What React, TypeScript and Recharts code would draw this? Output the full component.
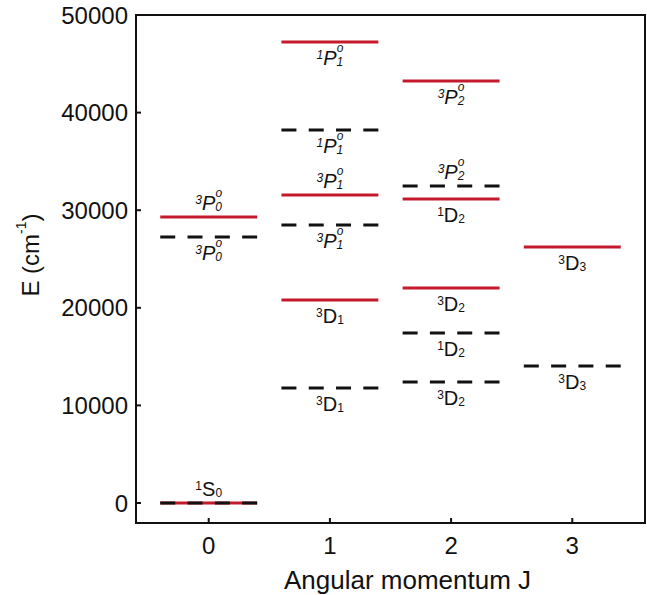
import React from "react";
import { ComposedChart, Line, Scatter, XAxis, YAxis, ReferenceArea } from "recharts";

const FONT = "'Liberation Sans', Arial, Helvetica, sans-serif";
const RED = "#c41a2b";

const J_TICKS = [0, 1, 2, 3];
const E_TICKS = [0, 10000, 20000, 30000, 40000, 50000];

// red solid levels
const calcJ = [0, 0, 1, 1, 1, 2, 2, 2, 3];
const calcE = [0, 29300, 47230, 31560, 20800, 43240, 31150, 22030, 26230];
const calcTerm = ["1S0", "3P0o", "1P1o", "3P1o", "3D1", "3P2o", "1D2", "3D2", "3D3"];

// black dashed levels
const exptJ = [0, 0, 1, 1, 1, 2, 2, 2, 3];
const exptE = [0, 27250, 38220, 28480, 11780, 32480, 17420, 12400, 14040];
const exptTerm = ["", "3P0o", "1P1o", "3P1o", "3D1", "3P2o", "1D2", "3D2", "3D3"];

// label sits above the level (true) or below it
const calcAbove = [true, true, false, true, false, false, false, false, false];
const exptAbove = [false, false, false, false, false, true, false, false, false];

const HALF = 0.4;

const segment = (j: number, e: number) => [
  { x: j - HALF, e },
  { x: j + HALF, e },
];

const labelPoints = (js: number[], es: number[], terms: string[], above: boolean[]) =>
  js.map((j, i) => ({ x: j, e: es[i], term: terms[i], above: above[i] }));

const TermLabel = (props: any) => {
  const { cx, cy, payload } = props;
  if (!payload || !payload.term) return <g />;
  const t: string = payload.term;
  const odd = t.endsWith("o");
  const y = payload.above ? cy - 7 : cy + 23;
  return (
    <text
      x={cx}
      y={y}
      textAnchor="middle"
      fontFamily={FONT}
      fill="#111"
      fontStyle={odd ? "italic" : "normal"}
    >
      <tspan fontSize={12} dy={-6}>{t[0]}</tspan>
      <tspan fontSize={20} dy={6}>{t[1]}</tspan>
      <tspan fontSize={12} dy={1}>{t[2]}</tspan>
      {odd && (
        <tspan fontSize={12} dx={-6.5} dy={-14}>
          o
        </tspan>
      )}
    </text>
  );
};

const YTitle = (props: any) => {
  const vb = props.viewBox || { x: 0, y: 15, width: 136, height: 508 };
  const x = vb.x + 30;
  const y = vb.y + vb.height / 2 - 14;
  return (
    <text
      x={x}
      y={y}
      transform={`rotate(-90 ${x} ${y})`}
      textAnchor="middle"
      dominantBaseline="central"
      fontFamily={FONT}
      fontSize={24}
      fill="#111"
    >
      E (cm<tspan fontSize={14} dy={-9}>-1</tspan>
      <tspan dy={9}>)</tspan>
    </text>
  );
};

const XTitle = (props: any) => {
  const vb = props.viewBox || { x: 136, y: 523, width: 509, height: 72 };
  return (
    <text
      x={vb.x + vb.width / 2 + 17}
      y={vb.y + 66}
      textAnchor="middle"
      fontFamily={FONT}
      fontSize={26}
      fill="#111"
    >
      Angular momentum J
    </text>
  );
};

export default function App() {
  const tick = { fontSize: 24, fill: "#111", fontFamily: FONT };
  return (
    <div style={{ position: "absolute", left: 0, top: 0, width: 647, height: 595, background: "#fff" }}>
      <ComposedChart width={647} height={595} margin={{ top: 15, right: 2, bottom: 0, left: 0 }}>
        <XAxis
          type="number"
          dataKey="x"
          domain={[-0.6, 3.6]}
          ticks={J_TICKS}
          allowDataOverflow
          height={72}
          tick={tick}
          tickSize={-5}
          tickMargin={19}
          axisLine={{ stroke: "#111", strokeWidth: 2 }}
          tickLine={{ stroke: "#111", strokeWidth: 2 }}
          label={(p: any) => <XTitle {...p} />}
        />
        <YAxis
          type="number"
          dataKey="e"
          domain={[-2050, 50000]}
          ticks={E_TICKS}
          allowDataOverflow
          width={136}
          tick={tick}
          tickSize={-5}
          tickMargin={13}
          axisLine={{ stroke: "#111", strokeWidth: 2 }}
          tickLine={{ stroke: "#111", strokeWidth: 2 }}
          label={(p: any) => <YTitle {...p} />}
        />
        <ReferenceArea
          x1={-0.6}
          x2={3.6}
          y1={-2050}
          y2={50000}
          fill="none"
          stroke="#111"
          strokeWidth={2}
          ifOverflow="visible"
        />
        {calcJ.map((j, i) => (
          <Line
            key={`c${i}`}
            data={segment(j, calcE[i])}
            dataKey="e"
            stroke={RED}
            strokeWidth={3}
            dot={false}
            activeDot={false}
            isAnimationActive={false}
          />
        ))}
        {exptJ.map((j, i) => (
          <Line
            key={`x${i}`}
            data={segment(j, exptE[i])}
            dataKey="e"
            stroke="#111"
            strokeWidth={3}
            strokeDasharray="15 12.3"
            dot={false}
            activeDot={false}
            isAnimationActive={false}
          />
        ))}
        <Scatter
          data={labelPoints(calcJ, calcE, calcTerm, calcAbove)}
          dataKey="e"
          shape={TermLabel}
          isAnimationActive={false}
        />
        <Scatter
          data={labelPoints(exptJ, exptE, exptTerm, exptAbove)}
          dataKey="e"
          shape={TermLabel}
          isAnimationActive={false}
        />
      </ComposedChart>
    </div>
  );
}
